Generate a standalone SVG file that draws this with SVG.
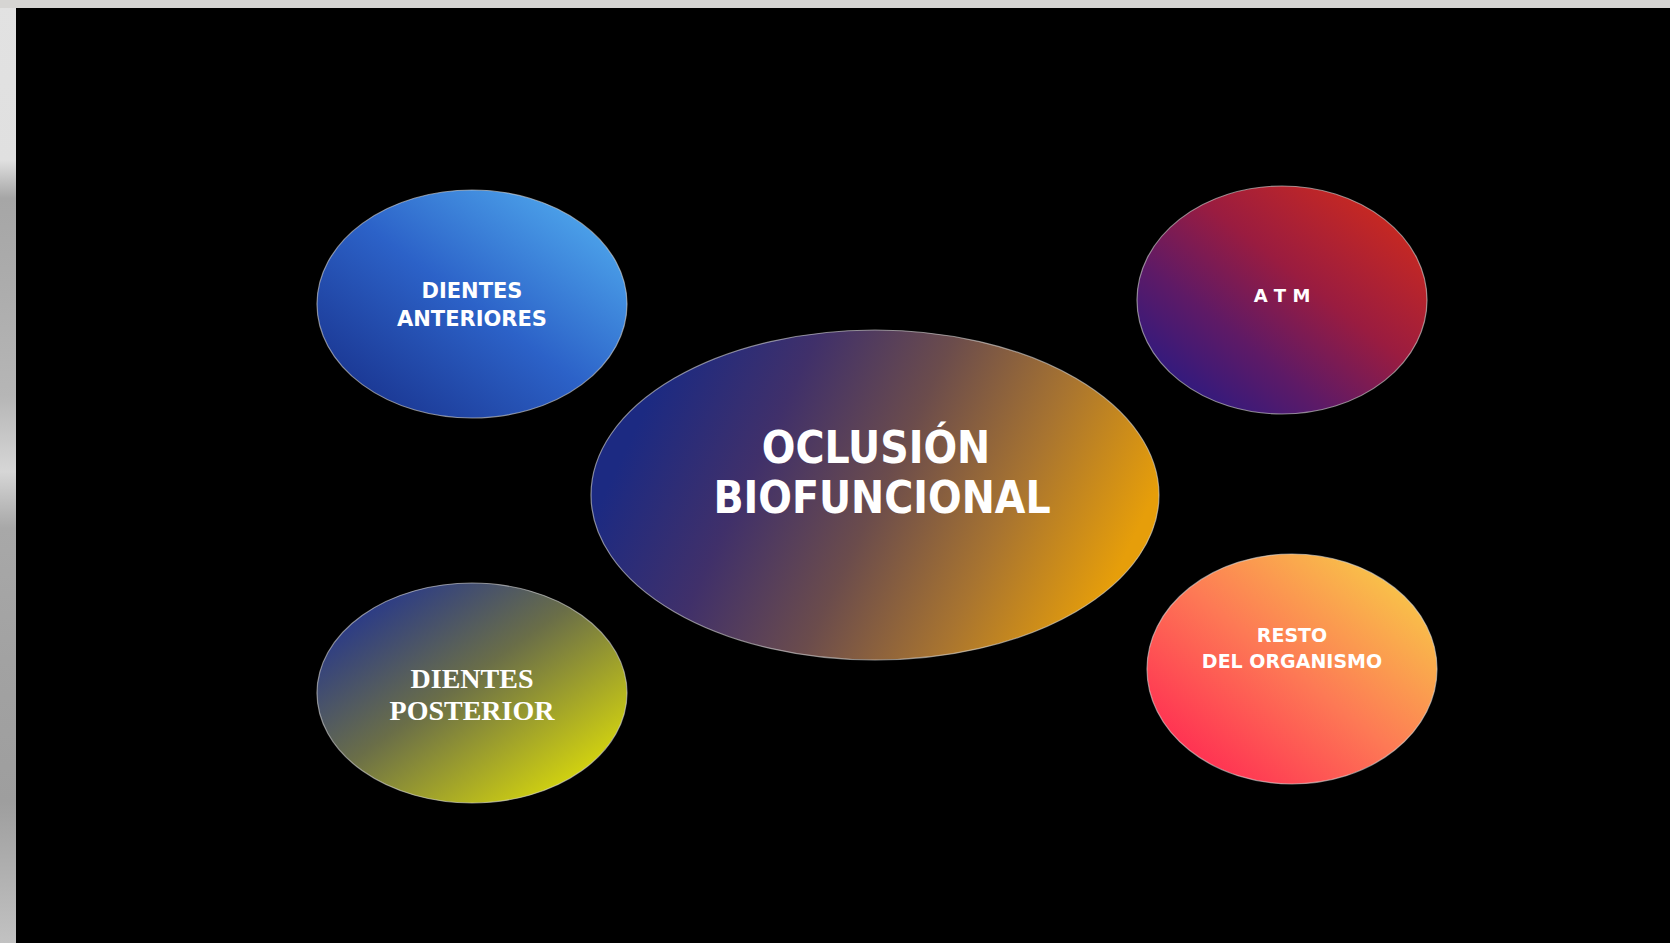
<svg xmlns="http://www.w3.org/2000/svg" width="1670" height="943" viewBox="0 0 1670 943">
<defs>
<linearGradient id="strip" x1="0" y1="0" x2="0" y2="1">
<stop offset="0" stop-color="#e2e2e2"/>
<stop offset="0.17" stop-color="#e0e0e0"/>
<stop offset="0.21" stop-color="#a6a6a6"/>
<stop offset="0.3" stop-color="#acacac"/>
<stop offset="0.42" stop-color="#b6b6b6"/>
<stop offset="0.5" stop-color="#d6d6d6"/>
<stop offset="0.56" stop-color="#a8a8a8"/>
<stop offset="0.7" stop-color="#a2a2a2"/>
<stop offset="0.85" stop-color="#9e9e9e"/>
<stop offset="1" stop-color="#c2c2c2"/>
</linearGradient>
<linearGradient id="gAnt" x1="0.1" y1="0.9" x2="0.9" y2="0.1">
<stop offset="0" stop-color="#1a3590"/>
<stop offset="0.5" stop-color="#2c62c8"/>
<stop offset="1" stop-color="#4ea6ec"/>
</linearGradient>
<linearGradient id="gCen" x1="0.05" y1="0.4" x2="0.95" y2="0.65">
<stop offset="0" stop-color="#1c2a82"/>
<stop offset="0.25" stop-color="#40306a"/>
<stop offset="0.5" stop-color="#6b4c4c"/>
<stop offset="0.75" stop-color="#a87430"/>
<stop offset="1" stop-color="#e69e0a"/>
</linearGradient>
<linearGradient id="gAtm" x1="0.1" y1="0.9" x2="0.9" y2="0.1">
<stop offset="0" stop-color="#2a1a82"/>
<stop offset="0.3" stop-color="#5e1a66"/>
<stop offset="0.6" stop-color="#9a1c40"/>
<stop offset="1" stop-color="#cc2a1e"/>
</linearGradient>
<linearGradient id="gRes" x1="0.1" y1="0.9" x2="0.9" y2="0.1">
<stop offset="0" stop-color="#ff2a52"/>
<stop offset="0.5" stop-color="#fd7a55"/>
<stop offset="1" stop-color="#f8c848"/>
</linearGradient>
<linearGradient id="gPos" x1="0.1" y1="0.1" x2="0.9" y2="0.9">
<stop offset="0" stop-color="#24358e"/>
<stop offset="0.45" stop-color="#6a6e48"/>
<stop offset="1" stop-color="#dcdc0a"/>
</linearGradient>
</defs>
<style>
.node { stroke: #d8d8d8; stroke-opacity: 0.6; stroke-width: 1.2; }
.sans { font-family: "DejaVu Sans", Verdana, sans-serif; font-weight: bold; fill: #ffffff; text-anchor: middle; }
.cond { font-family: "DejaVu Sans Condensed", "DejaVu Sans", sans-serif; font-stretch: condensed; font-weight: bold; fill: #ffffff; text-anchor: middle; }
.serif { font-family: "Liberation Serif", "Times New Roman", serif; font-weight: bold; fill: #ffffff; text-anchor: middle; }
</style>
<rect x="0" y="0" width="1670" height="943" fill="url(#strip)"/>
<rect x="0" y="0" width="1670" height="8" fill="#d6d5d3"/>
<rect x="16" y="8" width="1654" height="935" fill="#000000"/>
<g id="connectors"></g>
<g id="dientes-anteriores">
<ellipse class="node" cx="472" cy="304" rx="155" ry="114" fill="url(#gAnt)"/>
<text class="sans" x="472" y="298" font-size="21">DIENTES</text>
<text class="sans" x="472" y="326" font-size="21">ANTERIORES</text>
</g>
<g id="oclusion">
<ellipse class="node" cx="875" cy="495" rx="284" ry="165" fill="url(#gCen)"/>
<text class="cond" x="876" y="463" font-size="44">OCLUSIÓN</text>
<text class="cond" x="882" y="513" font-size="44">BIOFUNCIONAL</text>
</g>
<g id="atm">
<ellipse class="node" cx="1282" cy="300" rx="145" ry="114" fill="url(#gAtm)"/>
<text class="sans" x="1282" y="302" font-size="18">A T M</text>
</g>
<g id="resto">
<ellipse class="node" cx="1292" cy="669" rx="145" ry="115" fill="url(#gRes)"/>
<text class="sans" x="1292" y="642" font-size="19">RESTO</text>
<text class="sans" x="1292" y="668" font-size="19">DEL ORGANISMO</text>
</g>
<g id="dientes-posterior">
<ellipse class="node" cx="472" cy="693" rx="155" ry="110" fill="url(#gPos)"/>
<text class="serif" x="472" y="688" font-size="28">DIENTES</text>
<text class="serif" x="472" y="720" font-size="28">POSTERIOR</text>
</g>
</svg>
